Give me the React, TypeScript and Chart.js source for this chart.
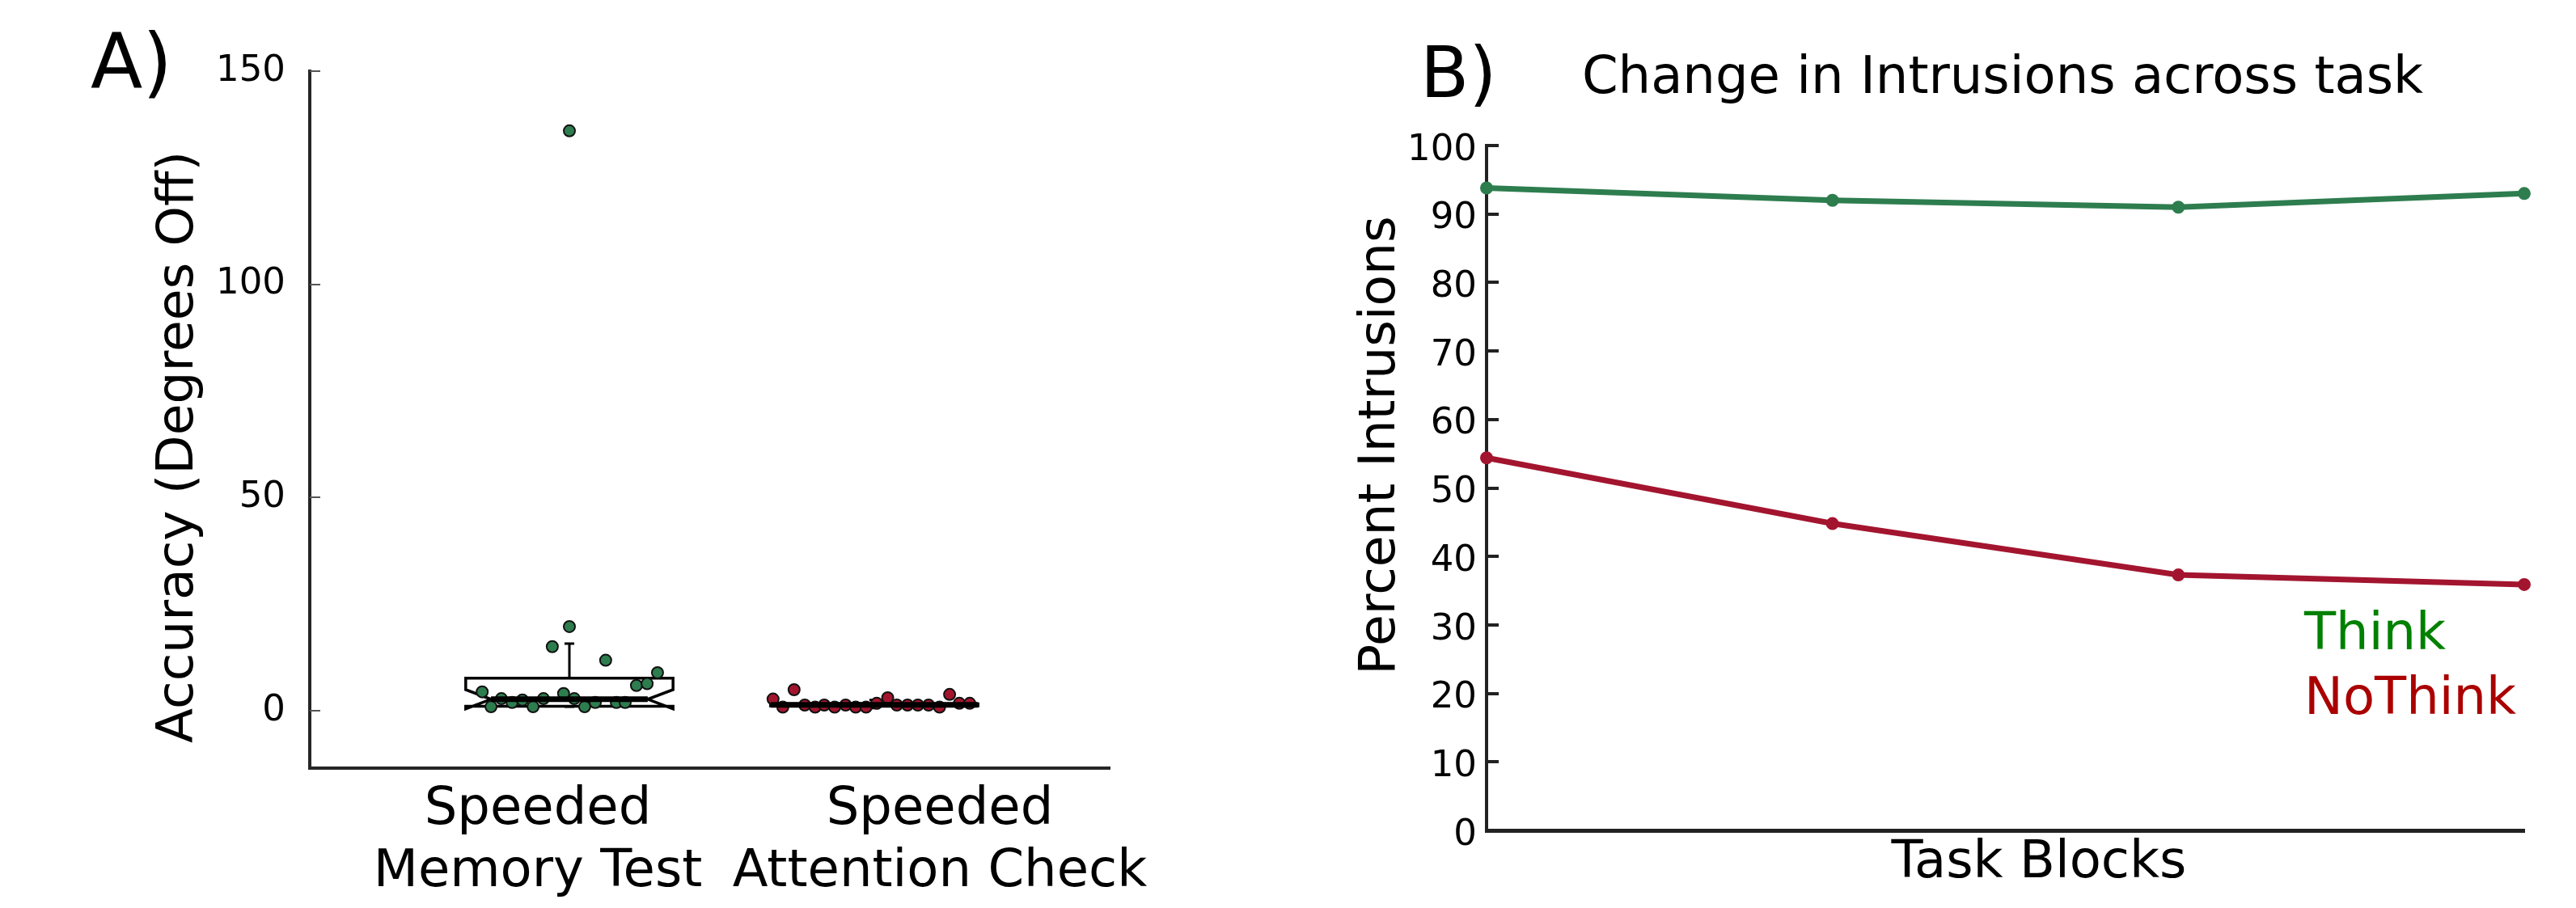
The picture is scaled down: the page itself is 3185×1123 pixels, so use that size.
import React, { useEffect, useRef } from 'react';
import { Chart, registerables } from 'chart.js';

Chart.register(...registerables);

const FONT = "'DejaVu Sans', sans-serif";

// ---------------- Panel A data ----------------
const categories = [
  ['Speeded', 'Memory Test'],
  ['Speeded', 'Attention Check'],
];
const categoryPositions = [1, 2];
const accuracyTicks = [0, 50, 100, 150];

const memoryX = [0.714, 0.743, 0.777, 0.812, 0.846, 0.881, 0.915, 0.944, 0.981, 1.0, 1.0, 1.016, 1.05, 1.085, 1.119, 1.154, 1.183, 1.22, 1.255, 1.289];
const memoryY = [4.4, 0.9, 2.8, 1.9, 2.5, 0.9, 2.8, 15.0, 4.0, 19.7, 136.0, 2.8, 0.9, 1.9, 11.8, 1.9, 1.9, 5.9, 6.3, 8.9];

const attentionX = [1.668, 1.7, 1.737, 1.772, 1.806, 1.836, 1.87, 1.906, 1.939, 1.973, 2.008, 2.044, 2.074, 2.109, 2.143, 2.178, 2.214, 2.247, 2.279, 2.313];
const attentionY = [2.7, 0.8, 4.9, 1.3, 0.8, 1.3, 0.8, 1.3, 0.8, 0.8, 1.7, 3.0, 1.3, 1.3, 1.3, 1.3, 0.8, 3.8, 1.7, 1.7];

// box stats: [whiskerLo, q1, notchLo, median, notchHi, q3, whiskerHi]
const memoryBox = [0.9, 1.0, 0.4, 2.66, 4.9, 7.6, 15.7];
const attentionBox = [0.6, 1.1, 1.2, 1.35, 1.5, 1.6, 2.5];

// ---------------- Panel B data ----------------
const blocks = ['1', '2', '3', '4'];
const thinkPct = [93.8, 92.0, 91.0, 93.0];
const noThinkPct = [54.4, 44.8, 37.3, 35.9];
const intrusionTicks = [0, 10, 20, 30, 40, 50, 60, 70, 80, 90, 100];
const seriesNames = ['Think', 'NoThink'];

// ---------------- styles ----------------
const GREEN = '#2E7D4F';
const RED = '#A3152F';
const LEGEND_COLORS = ['#008000', '#AA0000'];
const AXIS = '#262626';
const BOX_HALF = 0.34;
const NOTCH_IN = 0.083;
const CAP_HALF = 0.016;

type TextItem = { text: string; x: number; y: number; size: number; color?: string; align?: CanvasTextAlign; rotate?: number };

const textPlugin = (id: string, items: TextItem[]) => ({
  id,
  afterDraw(chart: any) {
    const ctx = chart.ctx as CanvasRenderingContext2D;
    items.forEach((t) => {
      ctx.save();
      ctx.font = `${t.size}px ${FONT}`;
      ctx.fillStyle = t.color || '#000';
      ctx.textAlign = t.align || 'left';
      ctx.textBaseline = 'alphabetic';
      ctx.translate(t.x, t.y);
      if (t.rotate) ctx.rotate(t.rotate);
      ctx.fillText(t.text, 0, 0);
      ctx.restore();
    });
  },
});

const inwardTicks = (id: string, len: number, width: number, color: string) => ({
  id,
  afterDraw(chart: any) {
    const ys = chart.scales.y;
    const ctx = chart.ctx as CanvasRenderingContext2D;
    const left = chart.chartArea.left;
    ctx.save();
    ctx.strokeStyle = color;
    ctx.lineWidth = width;
    ys.ticks.forEach((t: any) => {
      const y = Math.round(ys.getPixelForValue(t.value));
      ctx.beginPath();
      ctx.moveTo(left, y);
      ctx.lineTo(left + len, y);
      ctx.stroke();
    });
    ctx.restore();
  },
});

const boxes = [memoryBox, attentionBox];

const boxPlugin = {
  id: 'notchedBoxes',
  beforeDatasetsDraw(chart: any) {
    const xs = chart.scales.x;
    const ys = chart.scales.y;
    const ctx = chart.ctx as CanvasRenderingContext2D;
    const Y = (v: number) => ys.getPixelForValue(v);
    ctx.save();
    ctx.strokeStyle = '#000';
    ctx.lineJoin = 'miter';
    boxes.forEach((b, i) => {
      const cx = categoryPositions[i];
      const [wLo, q1, nLo, med, nHi, q3, wHi] = b;
      const L = xs.getPixelForValue(cx - BOX_HALF);
      const R = xs.getPixelForValue(cx + BOX_HALF);
      const Li = xs.getPixelForValue(cx - BOX_HALF + NOTCH_IN);
      const Ri = xs.getPixelForValue(cx + BOX_HALF - NOTCH_IN);
      const C = xs.getPixelForValue(cx);
      const cl = xs.getPixelForValue(cx - CAP_HALF);
      const cr = xs.getPixelForValue(cx + CAP_HALF);
      ctx.lineWidth = 3.5;
      ctx.beginPath();
      ctx.moveTo(L, Y(q3));
      ctx.lineTo(R, Y(q3));
      ctx.lineTo(R, Y(nHi));
      ctx.lineTo(Ri, Y(med));
      ctx.lineTo(R, Y(nLo));
      ctx.lineTo(R, Y(q1));
      ctx.lineTo(L, Y(q1));
      ctx.lineTo(L, Y(nLo));
      ctx.lineTo(Li, Y(med));
      ctx.lineTo(L, Y(nHi));
      ctx.closePath();
      ctx.stroke();
      // whiskers
      ctx.lineWidth = 3;
      ctx.beginPath();
      ctx.moveTo(C, Y(q3));
      ctx.lineTo(C, Y(wHi));
      ctx.moveTo(cl, Y(wHi));
      ctx.lineTo(cr, Y(wHi));
      ctx.moveTo(C, Y(q1));
      ctx.lineTo(C, Y(wLo));
      ctx.moveTo(cl, Y(wLo));
      ctx.lineTo(cr, Y(wLo));
      ctx.stroke();
    });
    ctx.restore();
  },
  afterDatasetsDraw(chart: any) {
    const xs = chart.scales.x;
    const ys = chart.scales.y;
    const ctx = chart.ctx as CanvasRenderingContext2D;
    ctx.save();
    ctx.strokeStyle = '#000';
    ctx.lineWidth = 7;
    boxes.forEach((b, i) => {
      const cx = categoryPositions[i];
      const med = b[3];
      const nHi = b[4];
      const notchFrac = Math.abs(nHi - med) < 0.5 ? 0 : NOTCH_IN;
      const Li = xs.getPixelForValue(cx - BOX_HALF + notchFrac);
      const Ri = xs.getPixelForValue(cx + BOX_HALF - notchFrac);
      const y = ys.getPixelForValue(med);
      ctx.beginPath();
      ctx.moveTo(Li, y);
      ctx.lineTo(Ri, y);
      ctx.stroke();
    });
    ctx.restore();
  },
};

export default function App() {
  const leftRef = useRef<HTMLCanvasElement>(null);
  const rightRef = useRef<HTMLCanvasElement>(null);

  useEffect(() => {
    Chart.defaults.font.family = FONT;
    Chart.defaults.color = '#000';

    const left = new Chart(leftRef.current as HTMLCanvasElement, {
      type: 'scatter',
      data: {
        datasets: [
          {
            label: categories[0].join(' '),
            data: memoryX.map((x, i) => ({ x, y: memoryY[i] })),
            pointRadius: 7,
            pointBackgroundColor: GREEN,
            pointBorderColor: '#111',
            pointBorderWidth: 2,
            xAxisID: 'x',
            yAxisID: 'y',
          },
          {
            label: categories[1].join(' '),
            data: attentionX.map((x, i) => ({ x, y: attentionY[i] })),
            pointRadius: 7,
            pointBackgroundColor: RED,
            pointBorderColor: '#111',
            pointBorderWidth: 2,
            xAxisID: 'x',
            yAxisID: 'y',
          },
        ],
      },
      options: {
        responsive: false,
        animation: false,
        devicePixelRatio: 1,
        layout: { padding: { left: 0, top: 88, right: 218, bottom: 0 } },
        plugins: { legend: { display: false }, tooltip: { enabled: false } },
        scales: {
          x: { type: 'linear', display: false, min: 0.1485, max: 2.772 },
          xl: {
            type: 'linear',
            position: 'bottom',
            min: 0.4326,
            max: 2.4226,
            afterBuildTicks: (s: any) => {
              s.ticks = categoryPositions.map((v) => ({ value: v }));
            },
            afterFit: (s: any) => {
              s.height = 173;
            },
            ticks: {
              callback: (v: any) => categories[Math.round(v) - 1],
              font: { size: 64 },
              padding: 14,
              maxRotation: 0,
              autoSkip: false,
              color: '#000',
            },
            grid: { display: false, drawTicks: false },
            border: { display: true, color: AXIS, width: 4 },
          },
          y: {
            type: 'linear',
            min: -13.5,
            max: 150,
            afterBuildTicks: (s: any) => {
              s.ticks = accuracyTicks.map((v) => ({ value: v }));
            },
            afterFit: (s: any) => {
              s.width = 383;
            },
            ticks: { font: { size: 45 }, padding: 30, color: '#000' },
            grid: { display: false, drawTicks: false },
            border: { display: true, color: AXIS, width: 4 },
          },
        },
      } as any,
      plugins: [
        boxPlugin,
        inwardTicks('ticksA', 13, 2, '#555'),
        textPlugin('textA', [
          { text: 'A)', x: 112, y: 109, size: 94 },
          { text: 'Accuracy (Degrees Off)', x: 238, y: 553, size: 63, align: 'center', rotate: -Math.PI / 2 },
        ]),
      ],
    });

    const right = new Chart(rightRef.current as HTMLCanvasElement, {
      type: 'line',
      data: {
        labels: blocks,
        datasets: [
          {
            label: seriesNames[0],
            data: thinkPct,
            borderColor: GREEN,
            backgroundColor: GREEN,
            borderWidth: 7,
            pointRadius: 7,
            pointBackgroundColor: GREEN,
            pointBorderColor: GREEN,
            pointBorderWidth: 2,
            tension: 0,
            clip: false,
          },
          {
            label: seriesNames[1],
            data: noThinkPct,
            borderColor: RED,
            backgroundColor: RED,
            borderWidth: 7,
            pointRadius: 7,
            pointBackgroundColor: RED,
            pointBorderColor: RED,
            pointBorderWidth: 2,
            tension: 0,
            clip: false,
          },
        ],
      },
      options: {
        responsive: false,
        animation: false,
        devicePixelRatio: 1,
        layout: { padding: { left: 0, top: 180, right: 64, bottom: 0 } },
        plugins: { legend: { display: false }, tooltip: { enabled: false } },
        scales: {
          x: {
            type: 'category',
            offset: false,
            ticks: { display: false },
            grid: { display: false, drawTicks: false },
            border: { display: true, color: '#222', width: 5 },
            afterFit: (s: any) => {
              s.height = 96;
            },
          },
          y: {
            type: 'linear',
            min: 0,
            max: 100,
            afterBuildTicks: (s: any) => {
              s.ticks = intrusionTicks.map((v) => ({ value: v }));
            },
            afterFit: (s: any) => {
              s.width = 248;
            },
            ticks: { font: { size: 45 }, padding: 12, labelOffset: 6, color: '#000' },
            grid: { display: false, drawTicks: false },
            border: { display: true, color: '#222', width: 4 },
          },
        },
      } as any,
      plugins: [
        inwardTicks('ticksB', 15, 4, '#222'),
        textPlugin('textB', [
          { text: 'B)', x: 166, y: 120, size: 88 },
          { text: 'Change in Intrusions across task', x: 886, y: 115, size: 64, align: 'center' },
          { text: 'Percent Intrusions', x: 134, y: 551, size: 63, align: 'center', rotate: -Math.PI / 2 },
          { text: 'Task Blocks', x: 931, y: 1085, size: 64, align: 'center' },
          { text: seriesNames[0], x: 1259, y: 803, size: 64, color: LEGEND_COLORS[0] },
          { text: seriesNames[1], x: 1259, y: 883, size: 64, color: LEGEND_COLORS[1] },
        ]),
      ],
    });

    return () => {
      left.destroy();
      right.destroy();
    };
  }, []);

  return (
    <div style={{ position: 'fixed', left: 0, top: 0, width: 3185, height: 1123, background: '#fff', overflow: 'hidden' }}>
      <canvas ref={leftRef} width={1590} height={1123} style={{ position: 'absolute', left: 0, top: 0, width: 1590, height: 1123 }} />
      <canvas ref={rightRef} width={1595} height={1123} style={{ position: 'absolute', left: 1590, top: 0, width: 1595, height: 1123 }} />
    </div>
  );
}
